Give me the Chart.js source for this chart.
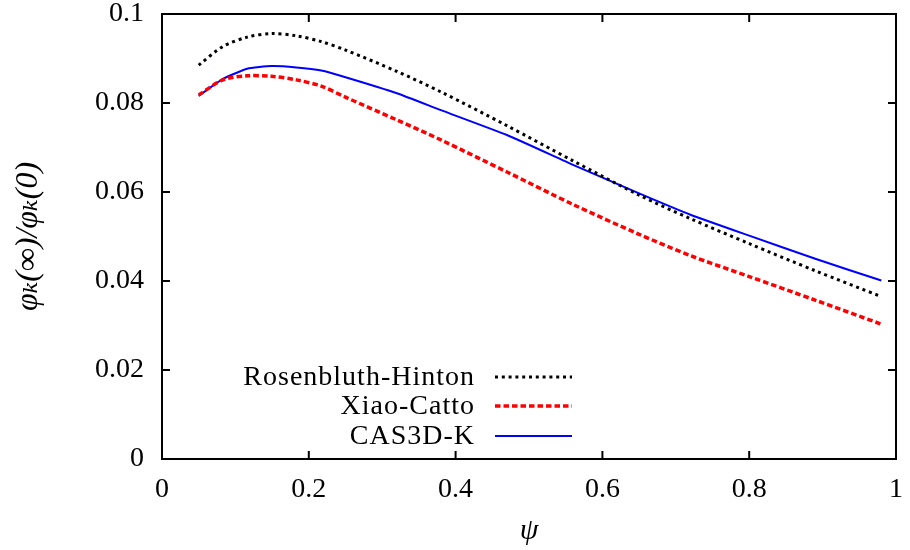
<!DOCTYPE html>
<html>
<head>
<meta charset="utf-8">
<script src="https://cdn.jsdelivr.net/npm/chart.js@4/dist/chart.umd.min.js"></script>
<style>
  html, body { margin: 0; padding: 0; background: #fff; }
  #wrap { width: 910px; height: 550px; }
</style>
</head>
<body>
<div id="wrap"><canvas id="c" width="910" height="550"></canvas></div>
<script>
const psi = [0.05, 0.083, 0.116, 0.149, 0.183, 0.217, 0.25, 0.32, 0.38, 0.47, 0.56, 0.65, 0.72, 0.80, 0.89, 0.98];
const rosenbluthHinton = [0.0885, 0.0927, 0.0948, 0.0956, 0.0951, 0.0938, 0.0919, 0.0871, 0.0825, 0.0749, 0.0670, 0.0593, 0.0540, 0.0484, 0.0423, 0.0365];
const xiaoCatto = [0.0818, 0.0852, 0.0861, 0.0860, 0.0852, 0.0838, 0.0813, 0.0762, 0.0717, 0.0645, 0.0572, 0.0505, 0.0457, 0.0410, 0.0357, 0.0303];
const cas3dK = [0.0816, 0.0854, 0.0877, 0.0883, 0.0880, 0.0873, 0.0858, 0.0822, 0.0784, 0.0728, 0.0661, 0.0597, 0.0549, 0.0502, 0.0450, 0.0401];
const seriesNames = ["Rosenbluth-Hinton", "Xiao-Catto", "CAS3D-K"];
const xTicks = [0, 0.2, 0.4, 0.6, 0.8, 1];
const yTicks = [0, 0.02, 0.04, 0.06, 0.08, 0.1];

const SERIF = "'Liberation Serif', 'DejaVu Serif', serif";
const pts = ys => psi.map((x, i) => ({x: x, y: ys[i]}));

const framePlugin = {
  id: 'frame',
  afterDatasetsDraw(chart) {
    const {ctx, chartArea: a, scales} = chart;
    ctx.save();
    ctx.strokeStyle = '#000';
    ctx.lineWidth = 2;
    const tl = 8;
    ctx.beginPath();
    scales.x.ticks.forEach(t => {
      const px = scales.x.getPixelForValue(t.value);
      if (px <= a.left + 1 || px >= a.right - 1) return;
      ctx.moveTo(px, a.bottom); ctx.lineTo(px, a.bottom - tl);
      ctx.moveTo(px, a.top); ctx.lineTo(px, a.top + tl);
    });
    scales.y.ticks.forEach(t => {
      const py = scales.y.getPixelForValue(t.value);
      if (py <= a.top + 1 || py >= a.bottom - 1) return;
      ctx.moveTo(a.left, py); ctx.lineTo(a.left + tl, py);
      ctx.moveTo(a.right, py); ctx.lineTo(a.right - tl, py);
    });
    ctx.stroke();
    ctx.strokeRect(a.left, a.top, a.right - a.left, a.bottom - a.top);

    // legend (inside plot, text right-aligned, sample to the right)
    const textRight = 475, sx0 = 495, sx1 = 572;
    const rowY = [377, 406, 436];
    ctx.font = "28px " + SERIF;
    ctx.textAlign = 'right';
    ctx.textBaseline = 'middle';
    ctx.fillStyle = '#000';
    try { ctx.letterSpacing = '1px'; } catch (e) {}
    chart.data.datasets.forEach((ds, i) => {
      const y = rowY[i];
      ctx.fillText(ds.label, textRight, y + 1);
      ctx.save();
      ctx.strokeStyle = ds.borderColor;
      ctx.lineWidth = ds.borderWidth;
      ctx.setLineDash(ds.borderDash || []);
      ctx.lineCap = 'butt';
      ctx.beginPath();
      ctx.moveTo(sx0, y); ctx.lineTo(sx1, y);
      ctx.stroke();
      ctx.restore();
    });
    ctx.restore();
  }
};

new Chart(document.getElementById('c'), {
  type: 'line',
  data: {
    datasets: [
      { label: seriesNames[0], data: pts(rosenbluthHinton), borderColor: '#000000', borderWidth: 3, borderDash: [3, 3.8], pointRadius: 0, fill: false, tension: 0.3 },
      { label: seriesNames[1], data: pts(xiaoCatto), borderColor: '#ff0000', borderWidth: 3.5, borderDash: [5.5, 3], pointRadius: 0, fill: false, tension: 0.3 },
      { label: seriesNames[2], data: pts(cas3dK), borderColor: '#0000ff', borderWidth: 2, pointRadius: 0, fill: false, tension: 0.15 }
    ]
  },
  options: {
    responsive: false,
    animation: false,
    events: [],
    layout: { padding: { top: 14, right: 14, left: 0, bottom: 0 } },
    plugins: { legend: { display: false }, tooltip: { enabled: false } },
    scales: {
      x: {
        type: 'linear', min: 0, max: 1,
        afterBuildTicks: s => { s.ticks = xTicks.map(v => ({value: v})); },
        grid: { display: false, drawTicks: false },
        border: { display: false },
        ticks: { color: '#000', font: { family: SERIF, size: 28 }, padding: 14, maxRotation: 0,
                 callback: v => String(v) },
        title: { display: true, text: 'ψ', color: '#000', font: { family: SERIF, size: 30, style: 'italic' }, padding: { top: 0, bottom: 1 } },
        afterFit: s => { s.height = 91; s.paddingLeft = 0; s.paddingRight = 0; }
      },
      y: {
        type: 'linear', min: 0, max: 0.1,
        afterBuildTicks: s => { s.ticks = yTicks.map(v => ({value: v})); },
        grid: { display: false, drawTicks: false },
        border: { display: false },
        ticks: { color: '#000', font: { family: SERIF, size: 28 }, padding: 18,
                 callback: v => String(v) },
        title: { display: true, text: 'φₖ(∞)/φₖ(0)', color: '#000', font: { family: SERIF, size: 32, style: 'italic' }, padding: { top: 9, bottom: 0 } },
        afterFit: s => { s.width = 162; s.paddingTop = 0; s.paddingBottom = 0; }
      }
    }
  },
  plugins: [framePlugin]
});
</script>
</body>
</html>
